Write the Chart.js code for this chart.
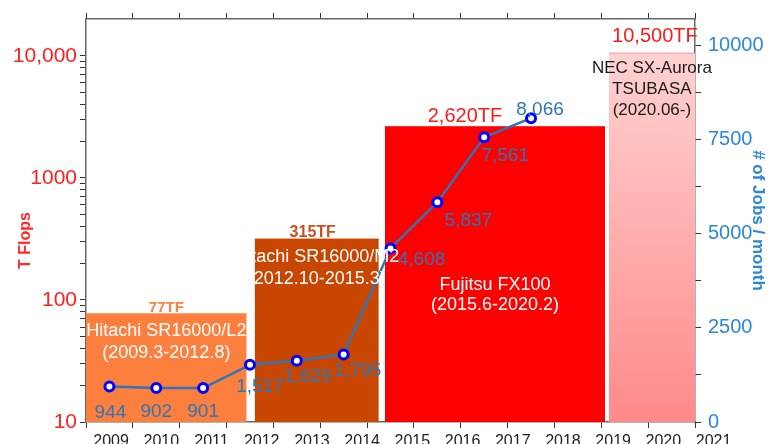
<!DOCTYPE html>
<html>
<head>
<meta charset="utf-8">
<script src="https://cdn.jsdelivr.net/npm/chart.js@4.4.1/dist/chart.umd.min.js"></script>
<style>
  html, body { margin: 0; padding: 0; background: #fff; }
</style>
</head>
<body>
<canvas id="chart" width="774" height="444"></canvas>
<script>
// etiquetas del eje x (años)
const yearLabels = [2009, 2010, 2011, 2012, 2013, 2014, 2015, 2016, 2017, 2018, 2019, 2020, 2021];

// eje izquierdo (T Flops, log)
const tflopsTicks = [10, 100, 1000, 10000];
const tflopsTickLabels = ['10', '100', '1000', '10,000'];
const tflopsTickMarks = [10, 20, 30, 40, 50, 60, 70, 80, 90,
                         100, 200, 300, 400, 500, 600, 700, 800, 900,
                         1000, 2000, 3000, 4000, 5000, 6000, 7000, 8000, 9000,
                         10000];

// eje derecho (# of Jobs / month)
const jobsTicks = [0, 1250, 2500, 3750, 5000, 6250, 7500, 8750, 10000];
const jobsTickLabels = ['0', '', '2500', '', '5000', '', '7500', '', '10000'];

// sistemas (barras)
const systemNames = [
    ['Hitachi SR16000/L2', '(2009.3-2012.8)'],
    ['Hitachi SR16000/M2', '(2012.10-2015.3)'],
    ['Fujitsu FX100', '(2015.6-2020.2)'],
    ['NEC SX-Aurora', 'TSUBASA', '(2020.06-)']
];
const systemStart = [2009.0, 2012.6, 2015.38, 2020.16];
const systemEnd = [2012.43, 2015.25, 2020.08, 2022.0];
const systemTflops = [77, 315, 2620, 10500];
const systemTflopsLabels = ['77TF', '315TF', '2,620TF', '10,500TF'];

// trabajos por mes
const jobYears = [2009, 2010, 2011, 2012, 2013, 2014, 2015, 2016, 2017, 2018];
const jobsPerMonth = [944, 902, 901, 1517, 1629, 1795, 4608, 5837, 7561, 8066];
const jobsLabels = ['944', '902', '901', '1,517', '1,629', '1,795', '4,608', '5,837', '7,561', '8,066'];

// estilos
const barColors = ['#fd7f3e', '#c94600', '#ff0000', null];
const barBorders = ['#fd8f55', '#c94600', '#ff0000', '#f29a9a'];
const tfLabelColors = ['#f7813f', '#c8501e', '#ff1a1a', '#ff1a1a'];
const tfLabelFonts = ['bold 15px', 'bold 16px', '20px', '20px'];
const tfLabelDx = [0, -4, -30, 3];
const tfLabelDy = [-6, -6, -10, -17];
const nameColors = ['#ffffff', '#ffffff', '#ffffff', '#1a1a1a'];
const nameFonts = ['18px', '18px', '18px', '17px'];
const nameDy = [17, 18, 158, 15];
const nameLineH = [22, 22, 20, 21];
const jobLabelDx = [1, 0, 0, 10, 11, 14, 31, 31, 21, 9];
const jobLabelDy = [26, 24, 24, 22, 16, 16, 11, 19, 19, -8];

const FONT = "'Liberation Sans', Arial, sans-serif";
Chart.defaults.font.family = FONT;

const tickGrid = { drawOnChartArea: false, tickLength: 6, color: '#333', lineWidth: 1 };
const axisBorder = { color: '#666', width: 1.5 };

function pinkFill(c) {
    const area = c.chart.chartArea;
    if (!area) return '#ffb0b0';
    let g = c.chart.ctx.createLinearGradient(0, area.top, 0, area.bottom);
    g.addColorStop(0, '#ffd8d8');
    g.addColorStop(1, '#ff8a8a');
    return g;
}

let datasets = systemTflops.map((v, i) => ({
    type: 'line',
    data: [{x: systemStart[i], y: v}, {x: systemEnd[i], y: v}],
    xAxisID: 'x',
    yAxisID: 'y',
    borderColor: barBorders[i],
    borderWidth: 1,
    backgroundColor: barColors[i] || pinkFill,
    fill: 'start',
    pointRadius: 0,
    order: 2
}));

datasets.push({
    type: 'line',
    data: jobYears.map((yr, i) => ({x: yr + 0.5, y: jobsPerMonth[i]})),
    xAxisID: 'x',
    yAxisID: 'y2',
    borderColor: '#2e75b6',
    borderWidth: 2.5,
    tension: 0,
    fill: false,
    pointRadius: 4.5,
    pointBorderWidth: 3,
    pointBorderColor: '#0000ff',
    pointBackgroundColor: '#ffffff',
    order: 0
});
const jobsIndex = datasets.length - 1;

// textos de barras y de la línea
const textPlugin = {
    id: 'texts',
    afterDraw(chart) {
        const {ctx, scales: {x, y}} = chart;
        ctx.save();
        ctx.textAlign = 'center';
        ctx.textBaseline = 'middle';
        systemTflops.forEach((v, i) => {
            const cx = (x.getPixelForValue(systemStart[i]) + x.getPixelForValue(systemEnd[i])) / 2;
            const top = y.getPixelForValue(v);
            ctx.font = tfLabelFonts[i] + ' ' + FONT;
            ctx.fillStyle = tfLabelColors[i];
            ctx.fillText(systemTflopsLabels[i], cx + tfLabelDx[i], top + tfLabelDy[i]);
            ctx.font = nameFonts[i] + ' ' + FONT;
            ctx.fillStyle = nameColors[i];
            systemNames[i].forEach((line, k) => {
                ctx.fillText(line, cx, top + nameDy[i] + k * nameLineH[i]);
            });
        });
        const meta = chart.getDatasetMeta(jobsIndex);
        ctx.font = '19px ' + FONT;
        ctx.fillStyle = '#2e75b6';
        meta.data.forEach((pt, i) => {
            ctx.fillText(jobsLabels[i], pt.x + jobLabelDx[i], pt.y + jobLabelDy[i]);
        });
        ctx.restore();
    }
};

new Chart(document.getElementById('chart'), {
    data: { datasets: datasets },
    options: {
        responsive: false,
        animation: false,
        layout: { padding: 0 },
        plugins: { legend: { display: false }, tooltip: { enabled: false } },
        scales: {
            x: {
                type: 'linear', position: 'bottom', min: 2009, max: 2022, weight: 0,
                ticks: { display: false, stepSize: 1, autoSkip: false },
                grid: tickGrid,
                border: axisBorder,
                afterFit: s => { s.height = 6; }
            },
            xl: {
                type: 'linear', position: 'bottom', axis: 'x', min: 2008.5, max: 2020.63, weight: 1,
                afterBuildTicks: s => { s.ticks = yearLabels.map(v => ({value: v})); },
                ticks: { autoSkip: false, maxRotation: 0, padding: 4, color: '#222', font: {size: 16},
                         callback: (v, i) => String(yearLabels[i]) },
                grid: { display: false, drawTicks: false },
                border: { display: false },
                afterFit: s => { s.height = 16; s.paddingLeft = 0; s.paddingRight = 0; }
            },
            xt: {
                type: 'linear', position: 'top', axis: 'x', min: 2009, max: 2022,
                ticks: { display: false, stepSize: 1, autoSkip: false },
                grid: tickGrid,
                border: axisBorder,
                afterFit: s => { s.height = 15; }
            },
            y: {
                type: 'logarithmic', position: 'left', min: 10, max: 20000,
                afterBuildTicks: s => { s.ticks = tflopsTickMarks.map(v => ({value: v})); },
                ticks: {
                    autoSkip: false, padding: 3, color: '#ff2020', font: {size: 21},
                    callback: v => { const k = tflopsTicks.indexOf(v); return k >= 0 ? tflopsTickLabels[k] : ''; }
                },
                grid: tickGrid,
                border: axisBorder,
                title: { display: true, text: 'T Flops         ', color: '#ff2a2a',
                         font: {size: 16, weight: 'bold'}, padding: {top: 16, bottom: 0} },
                afterFit: s => { s.width = 86; }
            },
            y2: {
                type: 'linear', position: 'right', min: 0, max: 10700,
                afterBuildTicks: s => { s.ticks = jobsTicks.map(v => ({value: v})); },
                ticks: {
                    autoSkip: false, padding: 7, color: '#2e87d4', font: {size: 20},
                    callback: (v, i) => jobsTickLabels[i]
                },
                grid: tickGrid,
                border: axisBorder,
                title: { display: true, text: '# of Jobs / month', color: '#2e87d4',
                         font: {size: 17, weight: 'bold'}, padding: {top: 6, bottom: 0} },
                afterFit: s => { s.width = 79; }
            }
        }
    },
    plugins: [textPlugin]
});
</script>
</body>
</html>
